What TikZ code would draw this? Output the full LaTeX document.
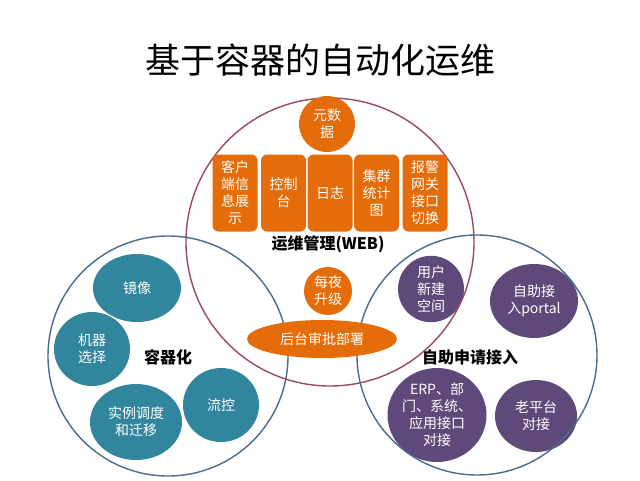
\documentclass[tikz,border=0pt]{standalone}
\usepackage{fontspec}
\setmainfont{Noto Sans CJK SC}
\usetikzlibrary{shapes.geometric}
\definecolor{opsorange}{HTML}{E46C0A}
\definecolor{cteal}{HTML}{31859C}
\definecolor{selfpurple}{HTML}{5F497A}
\definecolor{ringred}{HTML}{9B4A5C}
\definecolor{ringblue}{HTML}{4A6B8A}
\begin{document}
\begin{tikzpicture}[x=1pt,y=-1pt,
	ring/.style={line width=1.4pt},
	blob/.style={ellipse,inner sep=0pt,text=white,align=center,
		font=\fontsize{14}{17}\selectfont},
	tile/.style={rectangle,rounded corners=6pt,fill=opsorange,text=white,
		minimum width=45pt,minimum height=77pt,inner sep=0pt,align=center,
		font=\fontsize{14}{17}\selectfont},
	group/.style={font=\fontsize{16}{19}\selectfont\bfseries}]
	\useasboundingbox (0,0) rectangle (640,480);
	\fill[white] (0,0) rectangle (640,480);
	\node (title) at (320,60) {\fontsize{35}{40}\selectfont 基于容器的自动化运维};
	% container side
		\node[blob,fill=cteal,minimum width=88pt,minimum height=68pt] (mirror) at (137,288) {镜像};
		\node[blob,fill=cteal,minimum width=76pt,minimum height=74pt] (machine) at (92,349) {机器\\选择};
		\node[blob,fill=cteal,minimum width=92pt,minimum height=76pt] (sched) at (136,422) {实例调度\\和迁移};
		\node[blob,fill=cteal,minimum width=76pt,minimum height=74pt] (flow) at (221,405) {流控};
	% self service side
		\node[blob,fill=selfpurple,minimum width=66pt,minimum height=62pt] (space) at (431,289) {用户\\新建\\空间};
		\node[blob,fill=selfpurple,minimum width=88pt,minimum height=74pt] (portal) at (534,301) {自助接\\入portal};
		\node[blob,fill=selfpurple,minimum width=94pt,minimum height=94pt] (erp) at (437,415) {ERP、部\\门、系统、\\应用接口\\对接};
		\node[blob,fill=selfpurple,minimum width=82pt,minimum height=72pt] (legacy) at (536,416) {老平台\\对接};
	\draw[ring,ringred] (330,242) circle (144);
	\draw[ring,ringblue] (168,356) circle (120);
	\draw[ring,ringblue] (477,355) circle (120);
	% web side
		\node[blob,fill=opsorange,minimum width=56pt,minimum height=56pt] (meta) at (327,124) {元数\\据};
		\node[tile] (client) at (235,193) {客户\\端信\\息展\\示};
		\node[tile] (console) at (283.5,193) {控制\\台};
		\node[tile] (logs) at (330,193) {日志};
		\node[tile] (cluster) at (376.5,193) {集群\\统计\\图};
		\node[tile] (alarm) at (425,193) {报警\\网关\\接口\\切换};
		\node[blob,fill=opsorange,minimum width=48pt,minimum height=48pt] (nightly) at (328,291) {每夜\\升级};
		\node[blob,fill=opsorange,minimum width=150pt,minimum height=38pt] (approve) at (322,339) {后台审批部署};
	\node[group] (web) at (328,244) {运维管理(WEB)};
	\node[group] (docker) at (168,357) {容器化};
	\node[group] (apply) at (470,357) {自助申请接入};
\end{tikzpicture}
\end{document}
